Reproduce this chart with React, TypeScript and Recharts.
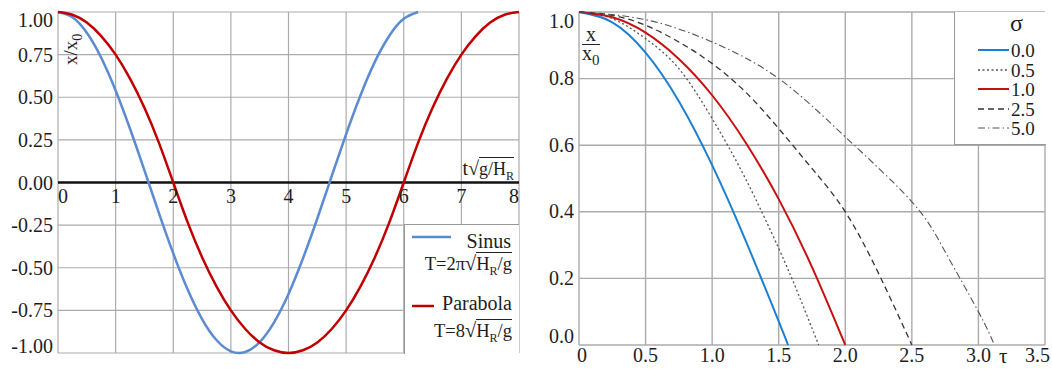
import { LineChart, Line, XAxis, YAxis, CartesianGrid, ReferenceLine } from "recharts";

// ---- left chart: x/x0 over t*sqrt(g/H_R) ----
const tValues = [
  0, 0.25, 0.5, 0.75, 1, 1.25, 1.5, 1.75, 2, 2.25, 2.5, 2.75, 3, 3.25, 3.5, 3.75, 4,
  4.25, 4.5, 4.75, 5, 5.25, 5.5, 5.75, 6, 6.25, 6.5, 6.75, 7, 7.25, 7.5, 7.75, 8,
];
const sinusValues = [
  1.0, 0.969, 0.878, 0.732, 0.54, 0.315, 0.071, -0.178, -0.416, -0.628, -0.801, -0.924,
  -0.99, -0.994, -0.936, -0.82, -0.654, -0.446, -0.211, 0.038, 0.284, 0.512, 0.709, 0.861,
  0.96, 1.0,
];
const parabolaValues = [
  1.0, 0.984, 0.938, 0.859, 0.75, 0.609, 0.438, 0.234, 0.0, -0.234, -0.438, -0.609, -0.75,
  -0.859, -0.938, -0.984, -1.0, -0.984, -0.938, -0.859, -0.75, -0.609, -0.438, -0.234, 0.0,
  0.234, 0.438, 0.609, 0.75, 0.859, 0.938, 0.984, 1.0,
];
const leftXTicks = [0, 1, 2, 3, 4, 5, 6, 7, 8];
const leftYTicks = [-1, -0.75, -0.5, -0.25, 0, 0.25, 0.5, 0.75, 1];

// ---- right chart: x/x0 over tau for several sigma ----
const sigma0Tau = [0, 0.25, 0.5, 0.75, 1.0, 1.25, 1.5, 1.57];
const sigma0Val = [1.0, 0.969, 0.878, 0.732, 0.54, 0.315, 0.071, 0.0];
const sigma05Tau = [0, 0.25, 0.5, 0.75, 1.0, 1.25, 1.5, 1.65, 1.8];
const sigma05Val = [1.0, 0.98, 0.92, 0.83, 0.68, 0.5, 0.29, 0.15, 0.0];
const sigma1Tau = [0, 0.25, 0.5, 0.75, 1.0, 1.25, 1.5, 1.75, 2.0];
const sigma1Val = [1.0, 0.984, 0.938, 0.859, 0.75, 0.609, 0.438, 0.234, 0.0];
const sigma25Tau = [0, 0.25, 0.5, 0.75, 1.0, 1.25, 1.5, 1.75, 2.0, 2.25, 2.5];
const sigma25Val = [1.0, 0.99, 0.96, 0.91, 0.845, 0.76, 0.65, 0.53, 0.4, 0.215, 0.0];
const sigma5Tau = [0, 0.5, 1.0, 1.5, 2.0, 2.5, 2.75, 3.0, 3.12];
const sigma5Val = [1.0, 0.977, 0.91, 0.8, 0.625, 0.43, 0.28, 0.1, 0.0];
const rightXTicks = [0, 0.5, 1, 1.5, 2, 2.5, 3, 3.5];
const rightYTicks = [0, 0.2, 0.4, 0.6, 0.8, 1];
const sigmaLabels = ["0.0", "0.5", "1.0", "2.5", "5.0"];

const leftRows = tValues.map((t, i) => ({
  t,
  sinus: i < sinusValues.length ? sinusValues[i] : null,
  parabola: parabolaValues[i],
}));
const toRows = (taus: number[], vals: number[]) => taus.map((tau, i) => ({ tau, v: vals[i] }));
const rightSeries = [
  { data: toRows(sigma0Tau, sigma0Val), stroke: "#1c80d2", width: 2, dash: undefined },
  { data: toRows(sigma05Tau, sigma05Val), stroke: "#555", width: 1.3, dash: "2 2.5" },
  { data: toRows(sigma1Tau, sigma1Val), stroke: "#c81010", width: 2, dash: undefined },
  { data: toRows(sigma25Tau, sigma25Val), stroke: "#333", width: 1.3, dash: "6 4" },
  { data: toRows(sigma5Tau, sigma5Val), stroke: "#555", width: 1.1, dash: "7 3 1.5 3" },
];

const FONT = "'Liberation Serif', 'Times New Roman', serif";
const GRID = "#ababab";
const TXT = "#1e1e1e";
const LEFT_PLOT_H = 341;

function LeftXTick(p: any) {
  const v = p.payload.value;
  const anchor = v === 0 ? "start" : v === 8 ? "end" : "middle";
  return (
    <text x={p.x} y={p.y - LEFT_PLOT_H / 2 + 20.5} textAnchor={anchor} fontFamily={FONT} fontSize={20} fill={TXT}>
      {v}
    </text>
  );
}

function LeftYTick(p: any) {
  const v = p.payload.value;
  const dy = v === 1 ? 15 : v === -1 ? 0 : 7;
  return (
    <text x={p.x - 5} y={p.y + dy} textAnchor="end" fontFamily={FONT} fontSize={20} fill={TXT}>
      {v.toFixed(2)}
    </text>
  );
}

function RightXTick(p: any) {
  const v = p.payload.value;
  const last = v === 3.5;
  return (
    <text x={last ? p.x + 5 : v === 0 ? p.x + 3 : p.x} y={p.y + 17} textAnchor={last ? "end" : "middle"} fontFamily={FONT} fontSize={20} fill={TXT}>
      {v === 0 ? "0" : v.toFixed(1)}
    </text>
  );
}

function RightYTick(p: any) {
  const v = p.payload.value;
  const dy = v === 1 ? 16 : v === 0 ? -2 : 6.5;
  return (
    <text x={p.x - 5} y={p.y + dy} textAnchor="end" fontFamily={FONT} fontSize={20} fill={TXT}>
      {v.toFixed(1)}
    </text>
  );
}

function Abs({ left, right, top, size, children }: any) {
  return (
    <div
      style={{
        position: "absolute",
        left,
        right,
        top,
        fontSize: size,
        lineHeight: 1,
        whiteSpace: "nowrap",
        fontFamily: FONT,
        color: TXT,
      }}
    >
      {children}
    </div>
  );
}

function Sqrt({ children, size }: any) {
  return (
    <span>
      <span style={{ fontSize: size * 1.1 }}>√</span>
      <span style={{ borderTop: "1px solid #222", fontSize: size, paddingTop: 1 }}>{children}</span>
    </span>
  );
}

function Sample({ stroke, width, dash, len }: any) {
  return (
    <svg width={len} height={6} style={{ position: "absolute", left: 0, top: -3 }}>
      <line x1={0} y1={3} x2={len} y2={3} stroke={stroke} strokeWidth={width} strokeDasharray={dash} />
    </svg>
  );
}

export default function App() {
  return (
    <div style={{ position: "absolute", left: 0, top: 0, width: 1052, height: 371, background: "#fff" }}>
      <LineChart
        width={530}
        height={371}
        data={leftRows}
        margin={{ top: 12, right: 11, bottom: 0, left: 0 }}
        style={{ position: "absolute", left: 0, top: 0 }}
      >
        <CartesianGrid stroke={GRID} strokeWidth={1.2} />
        <XAxis
          dataKey="t"
          type="number"
          domain={[0, 8]}
          ticks={leftXTicks}
          interval={0}
          height={18}
          axisLine={false}
          tickLine={false}
          tickSize={0}
          tickMargin={0}
          tick={(p: any) => <LeftXTick {...p} />}
        />
        <YAxis
          type="number"
          domain={[-1, 1]}
          ticks={leftYTicks}
          interval={0}
          width={58}
          axisLine={false}
          tickLine={false}
          tickSize={0}
          tickMargin={0}
          tick={(p: any) => <LeftYTick {...p} />}
        />
        <ReferenceLine y={0} stroke="#111" strokeWidth={2.5} />
        <Line dataKey="sinus" type="natural" stroke="#5b8bd0" strokeWidth={2.5} dot={false} isAnimationActive={false} />
        <Line dataKey="parabola" type="natural" stroke="#c00000" strokeWidth={2.5} dot={false} isAnimationActive={false} />
      </LineChart>

      {/* left axis titles */}
      <div
        style={{
          position: "absolute",
          left: 52,
          top: 36,
          width: 38,
          height: 20,
          transform: "rotate(-90deg)",
          fontFamily: FONT,
          fontSize: 19,
          lineHeight: "20px",
          color: TXT,
        }}
      >
        x/x<sub style={{ fontSize: 14 }}>0</sub>
      </div>
      <Abs right={1052 - 514} top={158} size={20}>
        t<Sqrt size={18}>
          g/H<sub style={{ fontSize: 12 }}>R</sub>
        </Sqrt>
      </Abs>

      {/* left legend */}
      <div
        style={{
          position: "absolute",
          left: 404,
          top: 224,
          width: 114,
          height: 129,
          background: "#fff",
          borderLeft: "1px solid #999",
          borderTop: "1px solid #999",
        }}
      >
        <div style={{ position: "absolute", left: 7, top: 12 }}>
          <Sample stroke="#5b8bd0" width={2.5} len={39} />
        </div>
        <Abs right={8} top={6} size={20}>Sinus</Abs>
        <Abs right={7} top={28} size={18.5}>
          T=2π<Sqrt size={18.5}>
            H<sub style={{ fontSize: 12 }}>R</sub>/g
          </Sqrt>
        </Abs>
        <div style={{ position: "absolute", left: 7, top: 81 }}>
          <Sample stroke="#c00000" width={2.5} len={22} />
        </div>
        <Abs right={7} top={68} size={20}>Parabola</Abs>
        <Abs right={7} top={95} size={18.5}>
          T=8<Sqrt size={18.5}>
            H<sub style={{ fontSize: 12 }}>R</sub>/g
          </Sqrt>
        </Abs>
      </div>

      <LineChart
        width={522}
        height={371}
        margin={{ top: 12, right: 7, bottom: 0, left: 0 }}
        style={{ position: "absolute", left: 530, top: 0 }}
      >
        <CartesianGrid stroke={GRID} strokeWidth={1.4} />
        <XAxis
          dataKey="tau"
          type="number"
          domain={[0, 3.5]}
          ticks={rightXTicks}
          interval={0}
          height={26}
          axisLine={false}
          tickLine={false}
          tickSize={0}
          tickMargin={0}
          tick={(p: any) => <RightXTick {...p} />}
        />
        <YAxis
          type="number"
          domain={[0, 1]}
          ticks={rightYTicks}
          interval={0}
          width={49}
          axisLine={false}
          tickLine={false}
          tickSize={0}
          tickMargin={0}
          tick={(p: any) => <RightYTick {...p} />}
        />
        {rightSeries.map((s, i) => (
          <Line
            key={i}
            data={s.data}
            dataKey="v"
            type="natural"
            stroke={s.stroke}
            strokeWidth={s.width}
            strokeDasharray={s.dash}
            dot={false}
            isAnimationActive={false}
          />
        ))}
      </LineChart>

      {/* right axis titles */}
      <div style={{ position: "absolute", left: 582, top: 26, fontFamily: FONT, fontSize: 20, color: TXT, textAlign: "center", lineHeight: "17px" }}>
        <div style={{ borderBottom: "1px solid #222", width: 18, paddingBottom: 1 }}>x</div>
        <div style={{ textAlign: "left" }}>
          x<sub style={{ fontSize: 15 }}>0</sub>
        </div>
      </div>
      <Abs left={999} top={346} size={21}>τ</Abs>

      {/* right legend */}
      <div
        style={{
          position: "absolute",
          left: 954,
          top: 12,
          width: 91,
          height: 132,
          background: "#fff",
          borderLeft: "1px solid #999",
          borderBottom: "1px solid #999",
        }}
      >
        <Abs left={55} top={-1} size={24}>σ</Abs>
        {sigmaLabels.map((lab, i) => (
          <div key={lab}>
            <div style={{ position: "absolute", left: 23, top: 38 + i * 19.5 }}>
              <Sample stroke={rightSeries[i].stroke} width={rightSeries[i].width} dash={rightSeries[i].dash} len={31} />
            </div>
            <Abs left={56} top={29 + i * 19.5} size={19}>{lab}</Abs>
          </div>
        ))}
      </div>
    </div>
  );
}
